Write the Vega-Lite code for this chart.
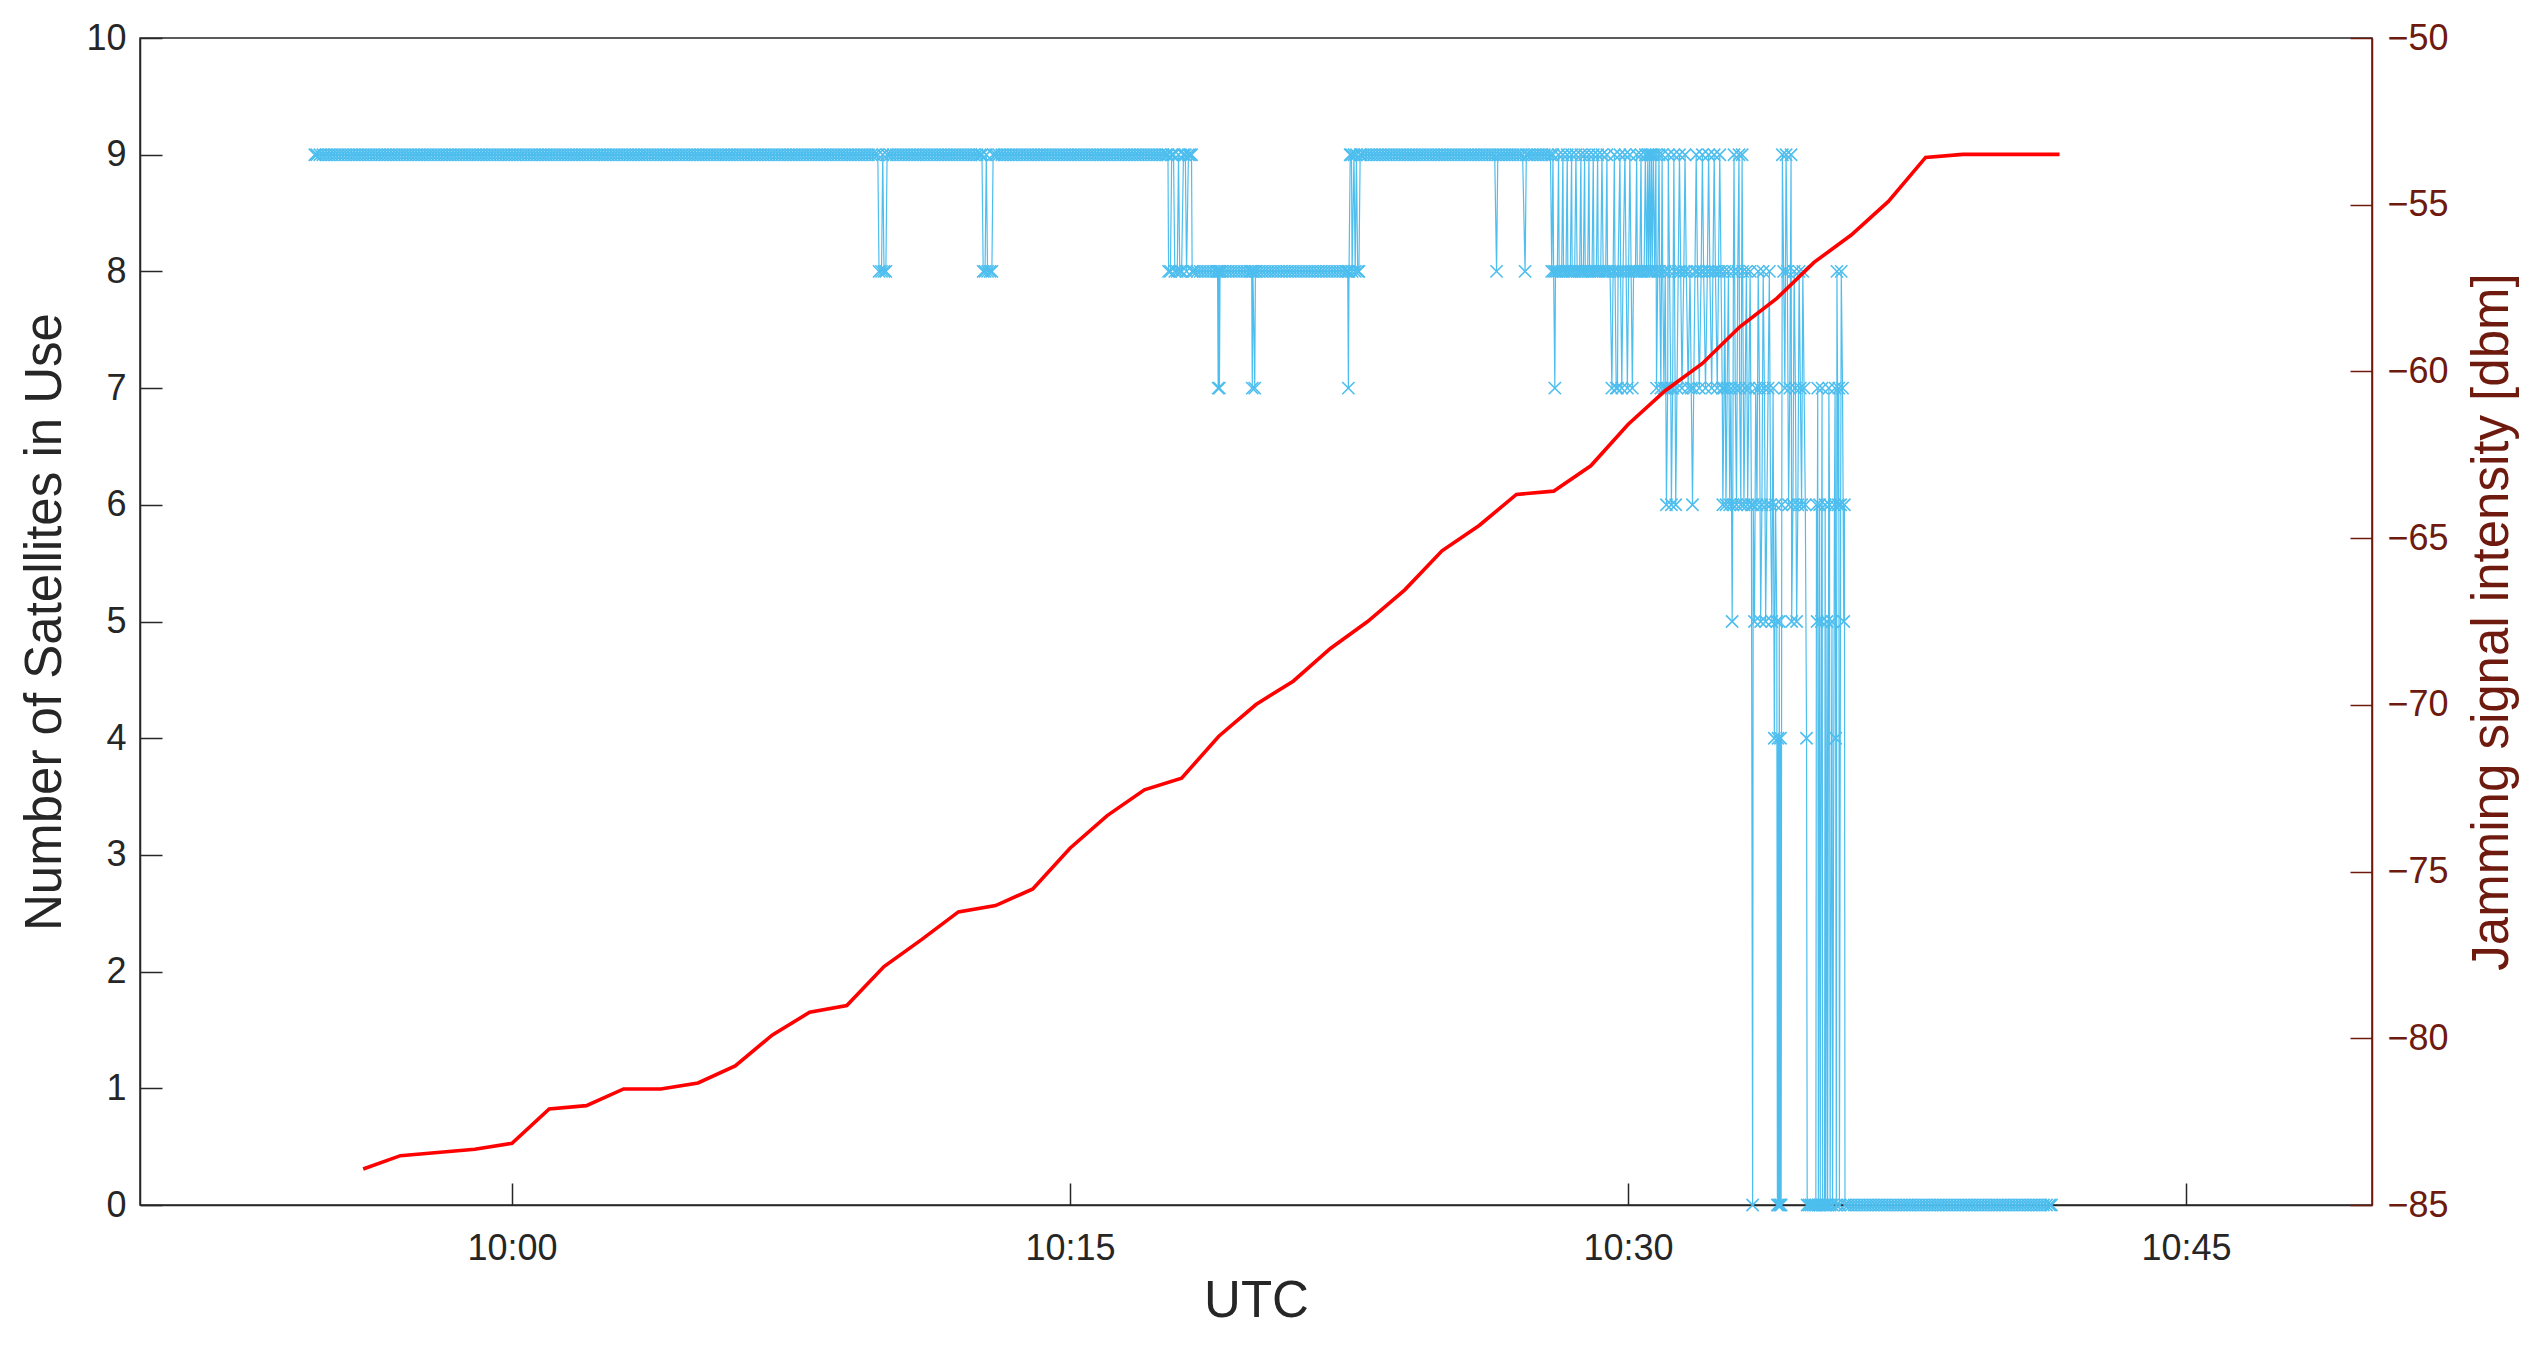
{
"$schema":"https://vega.github.io/schema/vega-lite/v6.json",
"width":2232,"height":1167,
"autosize":{"type":"none"},
"padding":{"left":140,"top":38,"right":165,"bottom":143},
"background":"white",
"config":{"font":"Liberation Sans","view":{"stroke":"#262626","strokeWidth":1.5}},
"resolve":{"scale":{"y":"independent"},"axis":{"y":"independent"}},
"layer":[
{"data":{"format":{"parse":{"t":"date:'%H:%M:%S'"}},"values":[
{"t":"09:54:42","n":9},{"t":"09:54:45","n":9},{"t":"09:54:50","n":9},{"t":"09:54:55","n":9},
{"t":"09:55:00","n":9},{"t":"09:55:05","n":9},{"t":"09:55:10","n":9},{"t":"09:55:15","n":9},{"t":"09:55:20","n":9},{"t":"09:55:25","n":9},{"t":"09:55:30","n":9},{"t":"09:55:35","n":9},{"t":"09:55:40","n":9},{"t":"09:55:45","n":9},{"t":"09:55:50","n":9},{"t":"09:55:55","n":9},
{"t":"09:56:00","n":9},{"t":"09:56:05","n":9},{"t":"09:56:10","n":9},{"t":"09:56:15","n":9},{"t":"09:56:20","n":9},{"t":"09:56:25","n":9},{"t":"09:56:30","n":9},{"t":"09:56:35","n":9},{"t":"09:56:40","n":9},{"t":"09:56:45","n":9},{"t":"09:56:50","n":9},{"t":"09:56:55","n":9},
{"t":"09:57:00","n":9},{"t":"09:57:05","n":9},{"t":"09:57:10","n":9},{"t":"09:57:15","n":9},{"t":"09:57:20","n":9},{"t":"09:57:25","n":9},{"t":"09:57:30","n":9},{"t":"09:57:35","n":9},{"t":"09:57:40","n":9},{"t":"09:57:45","n":9},{"t":"09:57:50","n":9},{"t":"09:57:55","n":9},
{"t":"09:58:00","n":9},{"t":"09:58:05","n":9},{"t":"09:58:10","n":9},{"t":"09:58:15","n":9},{"t":"09:58:20","n":9},{"t":"09:58:25","n":9},{"t":"09:58:30","n":9},{"t":"09:58:35","n":9},{"t":"09:58:40","n":9},{"t":"09:58:45","n":9},{"t":"09:58:50","n":9},{"t":"09:58:55","n":9},
{"t":"09:59:00","n":9},{"t":"09:59:05","n":9},{"t":"09:59:10","n":9},{"t":"09:59:15","n":9},{"t":"09:59:20","n":9},{"t":"09:59:25","n":9},{"t":"09:59:30","n":9},{"t":"09:59:35","n":9},{"t":"09:59:40","n":9},{"t":"09:59:45","n":9},{"t":"09:59:50","n":9},{"t":"09:59:55","n":9},
{"t":"10:00:00","n":9},{"t":"10:00:05","n":9},{"t":"10:00:10","n":9},{"t":"10:00:15","n":9},{"t":"10:00:20","n":9},{"t":"10:00:25","n":9},{"t":"10:00:30","n":9},{"t":"10:00:35","n":9},{"t":"10:00:40","n":9},{"t":"10:00:45","n":9},{"t":"10:00:50","n":9},{"t":"10:00:55","n":9},
{"t":"10:01:00","n":9},{"t":"10:01:05","n":9},{"t":"10:01:10","n":9},{"t":"10:01:15","n":9},{"t":"10:01:20","n":9},{"t":"10:01:25","n":9},{"t":"10:01:30","n":9},{"t":"10:01:35","n":9},{"t":"10:01:40","n":9},{"t":"10:01:45","n":9},{"t":"10:01:50","n":9},{"t":"10:01:55","n":9},
{"t":"10:02:00","n":9},{"t":"10:02:05","n":9},{"t":"10:02:10","n":9},{"t":"10:02:15","n":9},{"t":"10:02:20","n":9},{"t":"10:02:25","n":9},{"t":"10:02:30","n":9},{"t":"10:02:35","n":9},{"t":"10:02:40","n":9},{"t":"10:02:45","n":9},{"t":"10:02:50","n":9},{"t":"10:02:55","n":9},
{"t":"10:03:00","n":9},{"t":"10:03:05","n":9},{"t":"10:03:10","n":9},{"t":"10:03:15","n":9},{"t":"10:03:20","n":9},{"t":"10:03:25","n":9},{"t":"10:03:30","n":9},{"t":"10:03:35","n":9},{"t":"10:03:40","n":9},{"t":"10:03:45","n":9},{"t":"10:03:50","n":9},{"t":"10:03:55","n":9},
{"t":"10:04:00","n":9},{"t":"10:04:05","n":9},{"t":"10:04:10","n":9},{"t":"10:04:15","n":9},{"t":"10:04:20","n":9},{"t":"10:04:25","n":9},{"t":"10:04:30","n":9},{"t":"10:04:35","n":9},{"t":"10:04:40","n":9},{"t":"10:04:45","n":9},{"t":"10:04:50","n":9},{"t":"10:04:55","n":9},
{"t":"10:05:00","n":9},{"t":"10:05:05","n":9},{"t":"10:05:10","n":9},{"t":"10:05:15","n":9},{"t":"10:05:20","n":9},{"t":"10:05:25","n":9},{"t":"10:05:30","n":9},{"t":"10:05:35","n":9},{"t":"10:05:40","n":9},{"t":"10:05:45","n":9},{"t":"10:05:50","n":9},{"t":"10:05:55","n":9},
{"t":"10:06:00","n":9},{"t":"10:06:05","n":9},{"t":"10:06:10","n":9},{"t":"10:06:15","n":9},{"t":"10:06:20","n":9},{"t":"10:06:25","n":9},{"t":"10:06:30","n":9},{"t":"10:06:35","n":9},{"t":"10:06:40","n":9},{"t":"10:06:45","n":9},{"t":"10:06:50","n":9},{"t":"10:06:55","n":9},
{"t":"10:07:00","n":9},{"t":"10:07:05","n":9},{"t":"10:07:10","n":9},{"t":"10:07:15","n":9},{"t":"10:07:20","n":9},{"t":"10:07:25","n":9},{"t":"10:07:30","n":9},{"t":"10:07:35","n":9},{"t":"10:07:40","n":9},{"t":"10:07:45","n":9},{"t":"10:07:50","n":9},{"t":"10:07:55","n":9},
{"t":"10:08:00","n":9},{"t":"10:08:05","n":9},{"t":"10:08:10","n":9},{"t":"10:08:15","n":9},{"t":"10:08:20","n":9},{"t":"10:08:25","n":9},{"t":"10:08:30","n":9},{"t":"10:08:35","n":9},{"t":"10:08:40","n":9},{"t":"10:08:45","n":9},{"t":"10:08:50","n":9},{"t":"10:08:55","n":9},
{"t":"10:09:00","n":9},{"t":"10:09:05","n":9},{"t":"10:09:10","n":9},{"t":"10:09:15","n":9},{"t":"10:09:20","n":9},{"t":"10:09:25","n":9},{"t":"10:09:30","n":9},{"t":"10:09:35","n":9},{"t":"10:09:40","n":9},{"t":"10:09:45","n":9},{"t":"10:09:50","n":9},
{"t":"10:09:52","n":8},{"t":"10:09:56","n":8},{"t":"10:09:58","n":9},{"t":"10:10:00","n":8},{"t":"10:10:03","n":8},{"t":"10:10:05","n":9},
{"t":"10:10:10","n":9},{"t":"10:10:15","n":9},{"t":"10:10:20","n":9},{"t":"10:10:25","n":9},{"t":"10:10:30","n":9},{"t":"10:10:35","n":9},{"t":"10:10:40","n":9},{"t":"10:10:45","n":9},{"t":"10:10:50","n":9},{"t":"10:10:55","n":9},
{"t":"10:11:00","n":9},{"t":"10:11:05","n":9},{"t":"10:11:10","n":9},{"t":"10:11:15","n":9},{"t":"10:11:20","n":9},{"t":"10:11:25","n":9},{"t":"10:11:30","n":9},{"t":"10:11:35","n":9},{"t":"10:11:40","n":9},{"t":"10:11:45","n":9},{"t":"10:11:50","n":9},{"t":"10:11:55","n":9},
{"t":"10:12:00","n":9},{"t":"10:12:05","n":9},{"t":"10:12:10","n":9},{"t":"10:12:15","n":9},{"t":"10:12:20","n":9},{"t":"10:12:25","n":9},{"t":"10:12:30","n":9},{"t":"10:12:35","n":9},{"t":"10:12:38","n":9},
{"t":"10:12:40","n":8},{"t":"10:12:43","n":8},{"t":"10:12:45","n":9},{"t":"10:12:47","n":8},{"t":"10:12:51","n":8},{"t":"10:12:54","n":8},{"t":"10:12:56","n":9},
{"t":"10:13:00","n":9},{"t":"10:13:05","n":9},{"t":"10:13:10","n":9},{"t":"10:13:15","n":9},{"t":"10:13:20","n":9},{"t":"10:13:25","n":9},{"t":"10:13:30","n":9},{"t":"10:13:35","n":9},{"t":"10:13:40","n":9},{"t":"10:13:45","n":9},{"t":"10:13:50","n":9},{"t":"10:13:55","n":9},
{"t":"10:14:00","n":9},{"t":"10:14:05","n":9},{"t":"10:14:10","n":9},{"t":"10:14:15","n":9},{"t":"10:14:20","n":9},{"t":"10:14:25","n":9},{"t":"10:14:30","n":9},{"t":"10:14:35","n":9},{"t":"10:14:40","n":9},{"t":"10:14:45","n":9},{"t":"10:14:50","n":9},{"t":"10:14:55","n":9},
{"t":"10:15:00","n":9},{"t":"10:15:05","n":9},{"t":"10:15:10","n":9},{"t":"10:15:15","n":9},{"t":"10:15:20","n":9},{"t":"10:15:25","n":9},{"t":"10:15:30","n":9},{"t":"10:15:35","n":9},{"t":"10:15:40","n":9},{"t":"10:15:45","n":9},{"t":"10:15:50","n":9},{"t":"10:15:55","n":9},
{"t":"10:16:00","n":9},{"t":"10:16:05","n":9},{"t":"10:16:10","n":9},{"t":"10:16:15","n":9},{"t":"10:16:20","n":9},{"t":"10:16:25","n":9},{"t":"10:16:30","n":9},{"t":"10:16:35","n":9},{"t":"10:16:40","n":9},{"t":"10:16:45","n":9},{"t":"10:16:50","n":9},{"t":"10:16:55","n":9},
{"t":"10:17:00","n":9},{"t":"10:17:05","n":9},{"t":"10:17:10","n":9},{"t":"10:17:15","n":9},{"t":"10:17:20","n":9},{"t":"10:17:25","n":9},{"t":"10:17:30","n":9},{"t":"10:17:35","n":9},{"t":"10:17:38","n":9},
{"t":"10:17:39","n":8},{"t":"10:17:42","n":8},{"t":"10:17:44","n":9},{"t":"10:17:47","n":9},{"t":"10:17:49","n":8},{"t":"10:17:53","n":8},{"t":"10:17:55","n":9},{"t":"10:17:57","n":8},{"t":"10:18:00","n":8},{"t":"10:18:03","n":9},{"t":"10:18:06","n":9},{"t":"10:18:08","n":8},{"t":"10:18:11","n":9},{"t":"10:18:14","n":9},{"t":"10:18:16","n":9},{"t":"10:18:17","n":8},
{"t":"10:18:20","n":8},{"t":"10:18:25","n":8},{"t":"10:18:30","n":8},{"t":"10:18:35","n":8},{"t":"10:18:40","n":8},{"t":"10:18:45","n":8},{"t":"10:18:50","n":8},{"t":"10:18:55","n":8},{"t":"10:18:58","n":8},{"t":"10:18:59","n":7},{"t":"10:19:00","n":8},{"t":"10:19:01","n":7},{"t":"10:19:02","n":8},
{"t":"10:19:05","n":8},{"t":"10:19:10","n":8},{"t":"10:19:15","n":8},{"t":"10:19:20","n":8},{"t":"10:19:25","n":8},{"t":"10:19:30","n":8},{"t":"10:19:35","n":8},{"t":"10:19:40","n":8},{"t":"10:19:45","n":8},{"t":"10:19:50","n":8},{"t":"10:19:53","n":8},{"t":"10:19:54","n":7},{"t":"10:19:55","n":8},{"t":"10:19:58","n":7},{"t":"10:19:59","n":8},
{"t":"10:20:00","n":8},{"t":"10:20:05","n":8},{"t":"10:20:10","n":8},{"t":"10:20:15","n":8},{"t":"10:20:20","n":8},{"t":"10:20:25","n":8},{"t":"10:20:30","n":8},{"t":"10:20:35","n":8},{"t":"10:20:40","n":8},{"t":"10:20:45","n":8},{"t":"10:20:50","n":8},{"t":"10:20:55","n":8},
{"t":"10:21:00","n":8},{"t":"10:21:05","n":8},{"t":"10:21:10","n":8},{"t":"10:21:15","n":8},{"t":"10:21:20","n":8},{"t":"10:21:25","n":8},{"t":"10:21:30","n":8},{"t":"10:21:35","n":8},{"t":"10:21:40","n":8},{"t":"10:21:45","n":8},{"t":"10:21:50","n":8},{"t":"10:21:55","n":8},
{"t":"10:22:00","n":8},{"t":"10:22:05","n":8},{"t":"10:22:10","n":8},{"t":"10:22:15","n":8},{"t":"10:22:20","n":8},{"t":"10:22:25","n":8},{"t":"10:22:28","n":8},{"t":"10:22:29","n":7},{"t":"10:22:30","n":8},
{"t":"10:22:32","n":9},{"t":"10:22:34","n":9},{"t":"10:22:35","n":8},{"t":"10:22:38","n":9},{"t":"10:22:40","n":8},{"t":"10:22:42","n":9},{"t":"10:22:44","n":8},{"t":"10:22:46","n":8},{"t":"10:22:48","n":9},
{"t":"10:22:50","n":9},{"t":"10:22:55","n":9},
{"t":"10:23:00","n":9},{"t":"10:23:05","n":9},{"t":"10:23:10","n":9},{"t":"10:23:15","n":9},{"t":"10:23:20","n":9},{"t":"10:23:25","n":9},{"t":"10:23:30","n":9},{"t":"10:23:35","n":9},{"t":"10:23:40","n":9},{"t":"10:23:45","n":9},{"t":"10:23:50","n":9},{"t":"10:23:55","n":9},
{"t":"10:24:00","n":9},{"t":"10:24:05","n":9},{"t":"10:24:10","n":9},{"t":"10:24:15","n":9},{"t":"10:24:20","n":9},{"t":"10:24:25","n":9},{"t":"10:24:30","n":9},{"t":"10:24:35","n":9},{"t":"10:24:40","n":9},{"t":"10:24:45","n":9},{"t":"10:24:50","n":9},{"t":"10:24:55","n":9},
{"t":"10:25:00","n":9},{"t":"10:25:05","n":9},{"t":"10:25:10","n":9},{"t":"10:25:15","n":9},{"t":"10:25:20","n":9},{"t":"10:25:25","n":9},{"t":"10:25:30","n":9},{"t":"10:25:35","n":9},{"t":"10:25:40","n":9},{"t":"10:25:45","n":9},{"t":"10:25:50","n":9},{"t":"10:25:55","n":9},
{"t":"10:26:00","n":9},{"t":"10:26:05","n":9},{"t":"10:26:10","n":9},{"t":"10:26:15","n":9},{"t":"10:26:20","n":9},{"t":"10:26:25","n":9},{"t":"10:26:28","n":8},{"t":"10:26:30","n":9},{"t":"10:26:35","n":9},{"t":"10:26:40","n":9},{"t":"10:26:45","n":9},{"t":"10:26:50","n":9},{"t":"10:26:55","n":9},
{"t":"10:27:00","n":9},{"t":"10:27:05","n":9},{"t":"10:27:10","n":9},{"t":"10:27:14","n":8},{"t":"10:27:16","n":9},{"t":"10:27:20","n":9},{"t":"10:27:25","n":9},{"t":"10:27:30","n":9},{"t":"10:27:35","n":9},{"t":"10:27:40","n":9},{"t":"10:27:45","n":9},{"t":"10:27:50","n":9},{"t":"10:27:55","n":9},
{"t":"10:27:57","n":8},{"t":"10:27:59","n":9},{"t":"10:28:00","n":8},{"t":"10:28:02","n":7},{"t":"10:28:03","n":8},{"t":"10:28:06","n":8},{"t":"10:28:08","n":9},{"t":"10:28:09","n":8},{"t":"10:28:13","n":8},{"t":"10:28:15","n":9},{"t":"10:28:16","n":8},{"t":"10:28:20","n":8},{"t":"10:28:22","n":9},{"t":"10:28:23","n":8},{"t":"10:28:27","n":8},{"t":"10:28:29","n":9},{"t":"10:28:30","n":8},{"t":"10:28:34","n":8},{"t":"10:28:36","n":9},{"t":"10:28:38","n":8},{"t":"10:28:42","n":8},{"t":"10:28:44","n":9},{"t":"10:28:45","n":8},{"t":"10:28:48","n":8},{"t":"10:28:50","n":9},{"t":"10:28:51","n":8},{"t":"10:28:55","n":8},{"t":"10:28:57","n":9},{"t":"10:28:58","n":8},
{"t":"10:29:02","n":8},{"t":"10:29:04","n":9},{"t":"10:29:05","n":8},{"t":"10:29:09","n":8},{"t":"10:29:11","n":9},{"t":"10:29:12","n":8},{"t":"10:29:16","n":8},{"t":"10:29:18","n":9},{"t":"10:29:20","n":8},{"t":"10:29:24","n":8},{"t":"10:29:26","n":9},{"t":"10:29:27","n":8},{"t":"10:29:31","n":8},{"t":"10:29:34","n":7},{"t":"10:29:36","n":8},{"t":"10:29:38","n":9},{"t":"10:29:39","n":8},{"t":"10:29:41","n":7},{"t":"10:29:43","n":7},{"t":"10:29:44","n":8},{"t":"10:29:47","n":9},{"t":"10:29:48","n":8},{"t":"10:29:50","n":7},{"t":"10:29:52","n":8},{"t":"10:29:55","n":9},{"t":"10:29:57","n":8},{"t":"10:29:59","n":7},
{"t":"10:30:01","n":8},{"t":"10:30:03","n":9},{"t":"10:30:05","n":8},{"t":"10:30:07","n":7},{"t":"10:30:09","n":8},{"t":"10:30:12","n":8},{"t":"10:30:14","n":9},{"t":"10:30:15","n":8},{"t":"10:30:19","n":8},{"t":"10:30:21","n":9},{"t":"10:30:22","n":8},{"t":"10:30:26","n":8},{"t":"10:30:28","n":9},{"t":"10:30:30","n":8},{"t":"10:30:32","n":9},{"t":"10:30:33","n":8},{"t":"10:30:35","n":9},{"t":"10:30:36","n":8},{"t":"10:30:38","n":9},{"t":"10:30:39","n":8},{"t":"10:30:41","n":9},{"t":"10:30:43","n":8},{"t":"10:30:45","n":9},{"t":"10:30:46","n":7},{"t":"10:30:48","n":8},{"t":"10:30:50","n":9},{"t":"10:30:51","n":8},{"t":"10:30:53","n":7},{"t":"10:30:55","n":9},{"t":"10:30:56","n":8},{"t":"10:30:58","n":7},
{"t":"10:31:00","n":8},{"t":"10:31:01","n":7},{"t":"10:31:02","n":6},{"t":"10:31:04","n":7},{"t":"10:31:05","n":9},{"t":"10:31:07","n":8},{"t":"10:31:09","n":7},{"t":"10:31:10","n":6},{"t":"10:31:12","n":7},{"t":"10:31:14","n":9},{"t":"10:31:15","n":8},{"t":"10:31:17","n":6},{"t":"10:31:19","n":7},{"t":"10:31:21","n":8},{"t":"10:31:23","n":9},{"t":"10:31:25","n":8},{"t":"10:31:27","n":7},{"t":"10:31:30","n":8},{"t":"10:31:32","n":9},{"t":"10:31:34","n":8},{"t":"10:31:37","n":7},{"t":"10:31:40","n":8},{"t":"10:31:42","n":7},{"t":"10:31:44","n":6},{"t":"10:31:46","n":7},{"t":"10:31:48","n":8},{"t":"10:31:50","n":9},{"t":"10:31:52","n":8},{"t":"10:31:55","n":7},{"t":"10:31:58","n":8},
{"t":"10:32:00","n":9},{"t":"10:32:02","n":8},{"t":"10:32:05","n":7},{"t":"10:32:08","n":8},{"t":"10:32:10","n":9},{"t":"10:32:12","n":8},{"t":"10:32:15","n":7},{"t":"10:32:17","n":8},{"t":"10:32:19","n":9},{"t":"10:32:21","n":8},{"t":"10:32:24","n":7},{"t":"10:32:26","n":8},{"t":"10:32:28","n":9},{"t":"10:32:30","n":8},{"t":"10:32:32","n":7},{"t":"10:32:33","n":6},{"t":"10:32:35","n":7},{"t":"10:32:36","n":8},{"t":"10:32:38","n":6},{"t":"10:32:40","n":7},{"t":"10:32:42","n":8},{"t":"10:32:44","n":6},{"t":"10:32:46","n":7},{"t":"10:32:48","n":5},{"t":"10:32:49","n":6},{"t":"10:32:50","n":8},{"t":"10:32:51","n":9},{"t":"10:32:53","n":7},{"t":"10:32:55","n":6},{"t":"10:32:57","n":8},{"t":"10:32:59","n":9},
{"t":"10:33:00","n":7},{"t":"10:33:02","n":6},{"t":"10:33:04","n":9},{"t":"10:33:05","n":8},{"t":"10:33:07","n":6},{"t":"10:33:09","n":7},{"t":"10:33:11","n":8},{"t":"10:33:13","n":6},{"t":"10:33:15","n":7},{"t":"10:33:17","n":8},{"t":"10:33:19","n":6},{"t":"10:33:21","n":0},{"t":"10:33:22","n":6},{"t":"10:33:24","n":5},{"t":"10:33:26","n":7},{"t":"10:33:28","n":6},{"t":"10:33:30","n":8},{"t":"10:33:32","n":7},{"t":"10:33:34","n":5},{"t":"10:33:36","n":6},{"t":"10:33:38","n":8},{"t":"10:33:40","n":7},{"t":"10:33:42","n":5},{"t":"10:33:44","n":6},{"t":"10:33:46","n":7},{"t":"10:33:48","n":8},{"t":"10:33:50","n":6},{"t":"10:33:52","n":5},{"t":"10:33:54","n":7},{"t":"10:33:56","n":4},{"t":"10:33:58","n":6},
{"t":"10:34:00","n":5},{"t":"10:34:01","n":0},{"t":"10:34:02","n":4},{"t":"10:34:03","n":0},{"t":"10:34:04","n":5},{"t":"10:34:05","n":0},{"t":"10:34:06","n":4},{"t":"10:34:07","n":0},{"t":"10:34:08","n":6},{"t":"10:34:09","n":9},{"t":"10:34:11","n":8},{"t":"10:34:13","n":7},{"t":"10:34:15","n":9},{"t":"10:34:17","n":8},{"t":"10:34:19","n":6},{"t":"10:34:21","n":7},{"t":"10:34:23","n":9},{"t":"10:34:24","n":5},{"t":"10:34:26","n":6},{"t":"10:34:28","n":8},{"t":"10:34:30","n":7},{"t":"10:34:32","n":5},{"t":"10:34:34","n":6},{"t":"10:34:36","n":8},{"t":"10:34:38","n":7},{"t":"10:34:40","n":6},{"t":"10:34:42","n":8},{"t":"10:34:44","n":7},{"t":"10:34:46","n":6},{"t":"10:34:48","n":4},{"t":"10:34:49","n":0},{"t":"10:34:52","n":0},{"t":"10:34:55","n":0},{"t":"10:34:58","n":0},
{"t":"10:35:01","n":0},{"t":"10:35:03","n":0},{"t":"10:35:04","n":6},{"t":"10:35:05","n":5},{"t":"10:35:06","n":7},{"t":"10:35:07","n":0},{"t":"10:35:09","n":6},{"t":"10:35:10","n":0},{"t":"10:35:12","n":5},{"t":"10:35:13","n":7},{"t":"10:35:14","n":0},{"t":"10:35:17","n":0},{"t":"10:35:18","n":6},{"t":"10:35:19","n":0},{"t":"10:35:21","n":5},{"t":"10:35:22","n":0},{"t":"10:35:24","n":7},{"t":"10:35:25","n":6},{"t":"10:35:26","n":0},{"t":"10:35:29","n":5},{"t":"10:35:30","n":0},{"t":"10:35:33","n":6},{"t":"10:35:34","n":7},{"t":"10:35:35","n":4},{"t":"10:35:36","n":0},{"t":"10:35:37","n":8},{"t":"10:35:39","n":6},{"t":"10:35:40","n":7},{"t":"10:35:41","n":0},{"t":"10:35:43","n":6},{"t":"10:35:44","n":8},{"t":"10:35:46","n":7},{"t":"10:35:48","n":5},{"t":"10:35:49","n":6},{"t":"10:35:50","n":0},
{"t":"10:35:55","n":0},
{"t":"10:36:00","n":0},{"t":"10:36:05","n":0},{"t":"10:36:10","n":0},{"t":"10:36:15","n":0},{"t":"10:36:20","n":0},{"t":"10:36:25","n":0},{"t":"10:36:30","n":0},{"t":"10:36:35","n":0},{"t":"10:36:40","n":0},{"t":"10:36:45","n":0},{"t":"10:36:50","n":0},{"t":"10:36:55","n":0},
{"t":"10:37:00","n":0},{"t":"10:37:05","n":0},{"t":"10:37:10","n":0},{"t":"10:37:15","n":0},{"t":"10:37:20","n":0},{"t":"10:37:25","n":0},{"t":"10:37:30","n":0},{"t":"10:37:35","n":0},{"t":"10:37:40","n":0},{"t":"10:37:45","n":0},{"t":"10:37:50","n":0},{"t":"10:37:55","n":0},
{"t":"10:38:00","n":0},{"t":"10:38:05","n":0},{"t":"10:38:10","n":0},{"t":"10:38:15","n":0},{"t":"10:38:20","n":0},{"t":"10:38:25","n":0},{"t":"10:38:30","n":0},{"t":"10:38:35","n":0},{"t":"10:38:40","n":0},{"t":"10:38:45","n":0},{"t":"10:38:50","n":0},{"t":"10:38:55","n":0},
{"t":"10:39:00","n":0},{"t":"10:39:05","n":0},{"t":"10:39:10","n":0},{"t":"10:39:15","n":0},{"t":"10:39:20","n":0},{"t":"10:39:25","n":0},{"t":"10:39:30","n":0},{"t":"10:39:35","n":0},{"t":"10:39:40","n":0},{"t":"10:39:45","n":0},{"t":"10:39:50","n":0},{"t":"10:39:55","n":0},
{"t":"10:40:00","n":0},{"t":"10:40:05","n":0},{"t":"10:40:10","n":0},{"t":"10:40:15","n":0},{"t":"10:40:20","n":0},{"t":"10:40:25","n":0},{"t":"10:40:30","n":0},{"t":"10:40:35","n":0},{"t":"10:40:40","n":0},{"t":"10:40:45","n":0},{"t":"10:40:50","n":0},{"t":"10:40:55","n":0},
{"t":"10:41:00","n":0},{"t":"10:41:05","n":0},{"t":"10:41:10","n":0},{"t":"10:41:15","n":0},{"t":"10:41:20","n":0},{"t":"10:41:23","n":0}
]},
"mark":{"type":"line","color":"#4DBEEE","strokeWidth":1.2,"point":{"shape":"M-1,-1L1,1M-1,1L1,-1","filled":false,"size":150,"strokeWidth":1.6,"color":"#4DBEEE"}},
"encoding":{
"x":{"field":"t","type":"temporal",
"scale":{"domain":[{"year":1900,"month":1,"date":1,"hours":9,"minutes":50},{"year":1900,"month":1,"date":1,"hours":10,"minutes":50}]},
"axis":{"values":[{"year":1900,"month":1,"date":1,"hours":10,"minutes":0},{"year":1900,"month":1,"date":1,"hours":10,"minutes":15},{"year":1900,"month":1,"date":1,"hours":10,"minutes":30},{"year":1900,"month":1,"date":1,"hours":10,"minutes":45}],
"format":"%H:%M","grid":false,"labelFontSize":36,"labelColor":"#262626","labelPadding":48,"tickSize":-22,"tickColor":"#262626","tickWidth":1.5,"domainColor":"#262626","domainWidth":1.5,
"title":"UTC","titleFontSize":51,"titleFontWeight":"normal","titleColor":"#262626","titleX":1116,"titleY":96,"titleAlign":"center","titleBaseline":"middle"}},
"y":{"field":"n","type":"quantitative","scale":{"domain":[0,10],"nice":false},
"axis":{"orient":"left","values":[0,1,2,3,4,5,6,7,8,9,10],"grid":false,"labelFontSize":36,"labelColor":"#262626","labelPadding":36,"tickSize":-22,"tickColor":"#262626","tickWidth":1.5,"domainColor":"#262626","domainWidth":1.5,
"title":"Number of Satellites in Use","titleFontSize":51,"titleFontWeight":"normal","titleColor":"#262626","titleAngle":-90,"titleX":-95,"titleY":583.5,"titleAlign":"center","titleBaseline":"middle"}}
}},
{"data":{"format":{"parse":{"t":"date:'%H:%M:%S'"}},"values":[
{"t":"09:56:00","d":-83.92},{"t":"09:57:00","d":-83.52},{"t":"09:59:00","d":-83.33},{"t":"10:00:00","d":-83.15},{"t":"10:01:00","d":-82.12},{"t":"10:02:00","d":-82.02},{"t":"10:03:00","d":-81.52},{"t":"10:04:00","d":-81.52},{"t":"10:05:00","d":-81.34},{"t":"10:06:00","d":-80.83},{"t":"10:07:00","d":-79.9},{"t":"10:08:00","d":-79.22},{"t":"10:09:00","d":-79.02},{"t":"10:10:00","d":-77.85},{"t":"10:11:00","d":-77.05},{"t":"10:12:00","d":-76.21},{"t":"10:13:00","d":-76.02},{"t":"10:14:00","d":-75.52},{"t":"10:15:00","d":-74.3},{"t":"10:16:00","d":-73.32},{"t":"10:17:00","d":-72.55},{"t":"10:18:00","d":-72.2},{"t":"10:19:00","d":-70.94},{"t":"10:20:00","d":-69.99},{"t":"10:21:00","d":-69.29},{"t":"10:22:00","d":-68.31},{"t":"10:23:00","d":-67.5},{"t":"10:24:00","d":-66.55},{"t":"10:25:00","d":-65.38},{"t":"10:26:00","d":-64.62},{"t":"10:27:00","d":-63.69},{"t":"10:28:00","d":-63.59},{"t":"10:29:00","d":-62.83},{"t":"10:30:00","d":-61.59},{"t":"10:31:00","d":-60.58},{"t":"10:32:00","d":-59.76},{"t":"10:33:00","d":-58.67},{"t":"10:34:00","d":-57.81},{"t":"10:35:00","d":-56.73},{"t":"10:36:00","d":-55.91},{"t":"10:37:00","d":-54.9},{"t":"10:38:00","d":-53.58},{"t":"10:39:00","d":-53.49},{"t":"10:41:36","d":-53.49}
]},
"mark":{"type":"line","color":"#FF0000","strokeWidth":3.6},
"encoding":{
"x":{"field":"t","type":"temporal"},
"y":{"field":"d","type":"quantitative","scale":{"domain":[-85,-50],"nice":false},
"axis":{"orient":"right","values":[-85,-80,-75,-70,-65,-60,-55,-50],"grid":false,"labelFontSize":36,"labelColor":"#6E1A0E","labelPadding":37,"tickSize":-22,"tickColor":"#6E1A0E","tickWidth":1.5,"domainColor":"#6E1A0E","domainWidth":1.5,
"title":"Jamming signal intensity [dbm]","titleFontSize":51,"titleFontWeight":"normal","titleColor":"#6E1A0E","titleAngle":-90,"titleX":120,"titleY":583.5,"titleAlign":"center","titleBaseline":"middle"}}
}}
]
}
